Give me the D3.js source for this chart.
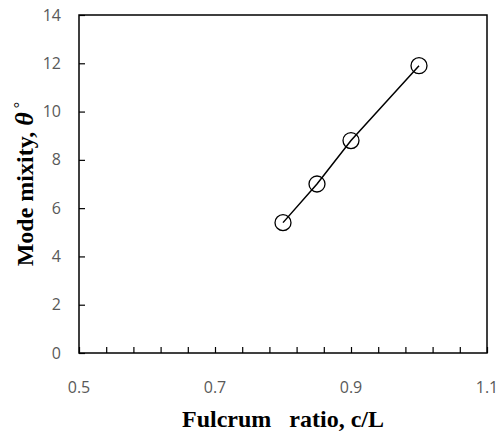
<!DOCTYPE html>
<html>
<head>
<meta charset="utf-8">
<script src="https://cdn.jsdelivr.net/npm/d3@7"></script>
<style>
  body { margin: 0; background: #fff; }
</style>
</head>
<body>
<div class="canvas"></div>
<script>
// data
const fulcrumRatio = [0.8, 0.85, 0.9, 1.0];
const modeMixity = [5.4, 7.0, 8.8, 11.9];
const xTickLabels = [0.5, 0.7, 0.9, 1.1];
const yTickLabels = [0, 2, 4, 6, 8, 10, 12, 14];

const svg = d3.select('.canvas')
    .append('svg')
    .attr('width', 500)
    .attr('height', 433);

const margin = { top: 15, right: 13, bottom: 80, left: 79 };
const graphWidth = 500 - margin.left - margin.right;
const graphHeight = 433 - margin.top - margin.bottom;

const graph = svg.append('g')
    .attr('transform', `translate(${margin.left},${margin.top})`);

const x = d3.scaleLinear().domain([0.5, 1.1]).range([0, graphWidth]);
const y = d3.scaleLinear().domain([0, 14]).range([graphHeight, 0]);

// minor ticks on x every 0.04, pointing inward
const xMinor = d3.range(0, 16).map(i => 0.5 + i * 0.04);
graph.append('g')
    .attr('transform', `translate(0, ${graphHeight})`)
    .call(d3.axisBottom(x).tickValues(xMinor).tickSize(-6).tickFormat(''))
    .call(g => g.select('.domain').remove())
    .selectAll('line').attr('stroke', '#000').attr('stroke-width', 1.2);

graph.append('g')
    .call(d3.axisLeft(y).tickValues(yTickLabels).tickSize(-6).tickFormat(''))
    .call(g => g.select('.domain').remove())
    .selectAll('line').attr('stroke', '#000').attr('stroke-width', 1.2);

// frame
graph.append('rect')
    .attr('width', graphWidth)
    .attr('height', graphHeight)
    .attr('fill', 'none')
    .attr('stroke', '#000')
    .attr('stroke-width', 1.5);

// tick labels
graph.selectAll('.xlab')
    .data(xTickLabels)
    .enter()
    .append('text')
    .attr('x', d => x(d))
    .attr('y', graphHeight + 40)
    .attr('text-anchor', 'middle')
    .attr('font-family', 'Open Sans, sans-serif')
    .attr('font-size', 16)
    .attr('fill', '#595959')
    .text(d => d);

graph.selectAll('.ylab')
    .data(yTickLabels)
    .enter()
    .append('text')
    .attr('x', -18)
    .attr('y', d => y(d))
    .attr('dy', '0.35em')
    .attr('text-anchor', 'end')
    .attr('font-family', 'Open Sans, sans-serif')
    .attr('font-size', 16)
    .attr('fill', '#595959')
    .text(d => d);

// series
const points = fulcrumRatio.map((v, i) => ({ x: v, y: modeMixity[i] }));
graph.append('path')
    .datum(points)
    .attr('fill', 'none')
    .attr('stroke', '#000')
    .attr('stroke-width', 1.5)
    .attr('d', d3.line().x(d => x(d.x)).y(d => y(d.y)));

graph.selectAll('circle')
    .data(points)
    .enter()
    .append('circle')
    .attr('cx', d => x(d.x))
    .attr('cy', d => y(d.y))
    .attr('r', 8)
    .attr('fill', 'none')
    .attr('stroke', '#000')
    .attr('stroke-width', 1.3);

// axis titles
svg.append('text')
    .attr('x', margin.left + graphWidth / 2)
    .attr('y', 427)
    .attr('text-anchor', 'middle')
    .attr('font-family', 'Liberation Serif, serif')
    .attr('font-weight', 'bold')
    .attr('font-size', 24)
    .attr('xml:space', 'preserve')
    .style('white-space', 'pre')
    .text('Fulcrum   ratio, c/L');

const yTitle = svg.append('text')
    .attr('transform', `translate(33, ${margin.top + graphHeight / 2}) rotate(-90)`)
    .attr('text-anchor', 'middle')
    .attr('font-family', 'Liberation Serif, serif')
    .attr('font-weight', 'bold')
    .attr('font-size', 24);
yTitle.append('tspan').text('Mode mixity,  ');
yTitle.append('tspan').attr('font-style', 'italic').attr('font-size', 26).text('θ');
yTitle.append('tspan').attr('font-weight', 'normal').attr('font-size', 16).attr('dy', -8).text(' °');
</script>
</body>
</html>
